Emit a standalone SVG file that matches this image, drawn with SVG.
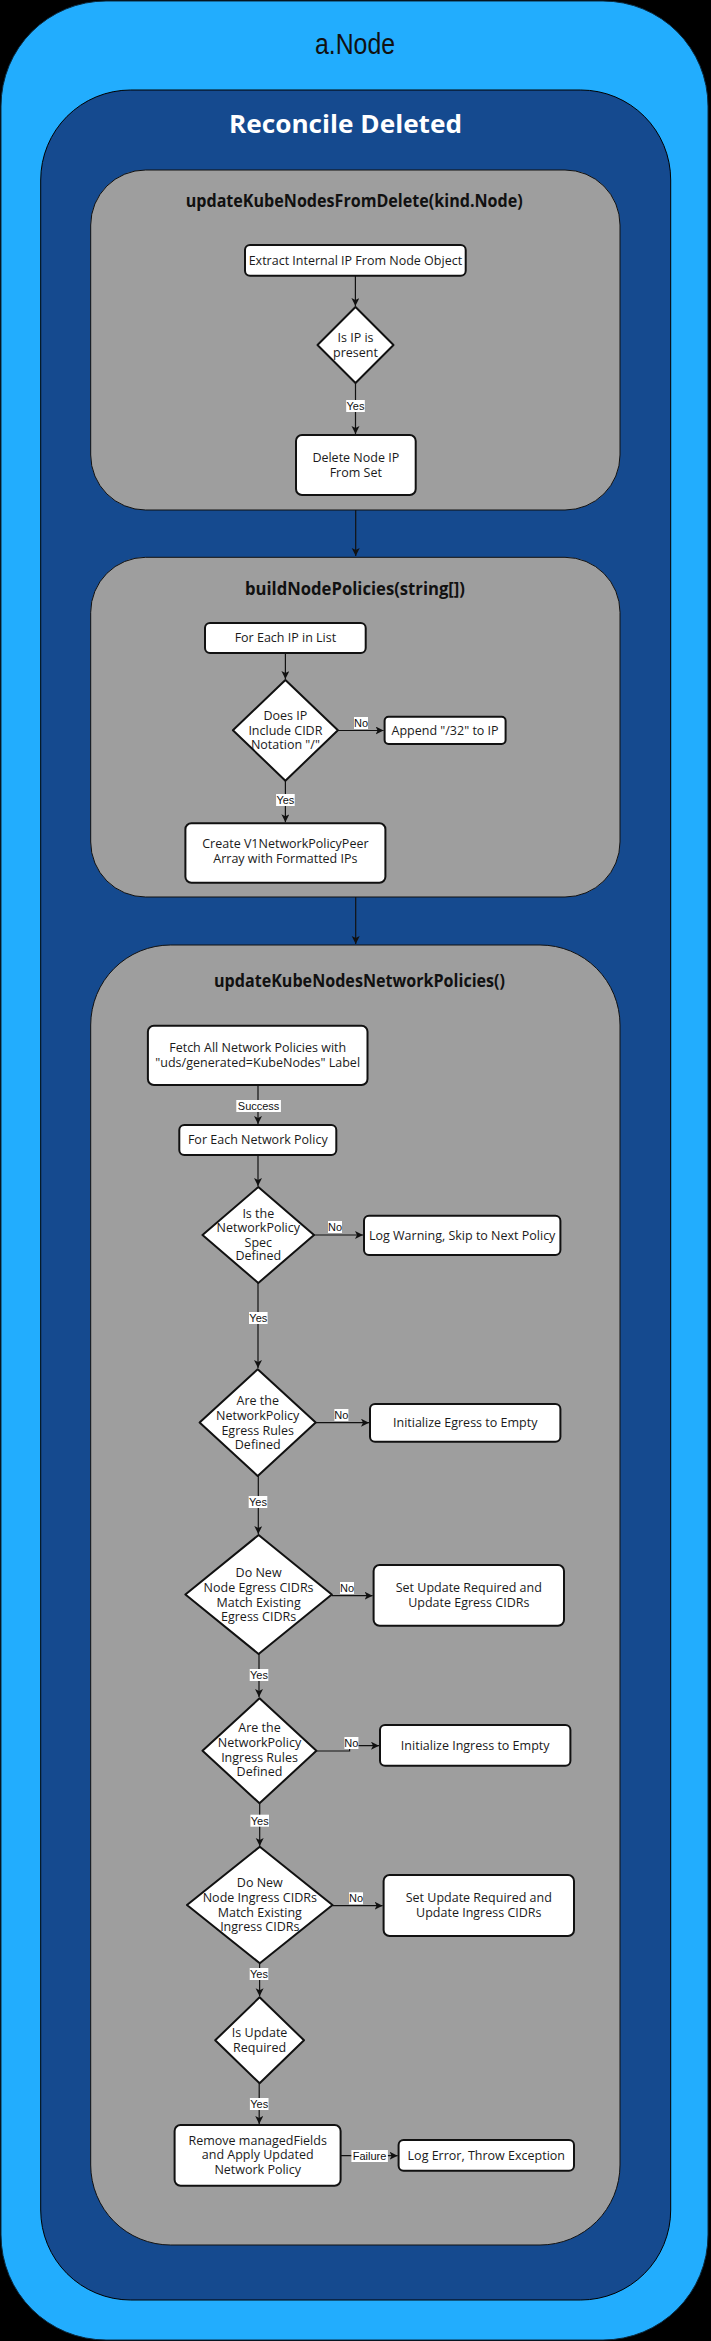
<svg xmlns="http://www.w3.org/2000/svg" width="711" height="2341" viewBox="0 0 711 2341">
<style>
.bg{fill:#000}
.outer{fill:#22adfe;stroke:#0a2a40;stroke-width:1}
.inner{fill:#154a8f;stroke:#000;stroke-width:1}
.panel{fill:#9e9e9e;stroke:#111;stroke-width:1}
.box{fill:#fff;stroke:#111;stroke-width:2}
.dia{fill:#fff;stroke:#111;stroke-width:2;stroke-linejoin:round}
.t{font-family:"Open Sans","Liberation Sans",sans-serif;font-size:12.5px;fill:#1a1a1a;text-anchor:middle}
.pt{font-family:"Open Sans","Liberation Sans",sans-serif;font-weight:700;font-size:17.5px;fill:#111;text-anchor:middle}
.lbl{font-family:"Liberation Sans","Arial",sans-serif;font-size:11px;fill:#111;text-anchor:middle}
.lb{fill:#fff}
.c{fill:none;stroke:#111;stroke-width:1.2}
</style>
<defs>
<marker id="ar" markerUnits="userSpaceOnUse" markerWidth="10" markerHeight="10" refX="8" refY="4" orient="auto">
<path d="M0,0 L8,4 L0,8 L2,4 z" fill="#111"/>
</marker>
</defs>
<rect class="bg" x="0" y="0" width="711" height="2341"/>
<g id="container-anode">
<rect class="outer" x="1" y="1" width="707" height="2339" rx="105" ry="105"/>
<text x="355" y="54" font-family="Liberation Sans, Arial, sans-serif" font-size="29" fill="#111" text-anchor="middle" textLength="80" lengthAdjust="spacingAndGlyphs">a.Node</text>
</g>
<g id="container-reconcile">
<rect class="inner" x="40.7" y="90" width="630" height="2210" rx="90" ry="90"/>
<text x="345.5" y="133" font-family="Open Sans, Liberation Sans, sans-serif" font-weight="700" font-size="25" fill="#fff" text-anchor="middle" textLength="233" lengthAdjust="spacingAndGlyphs">Reconcile Deleted</text>
</g>
<g id="panel-updateKubeNodesFromDelete">
<rect class="panel" x="90.7" y="170" width="529.3" height="340" rx="55" ry="55"/>
<text class="pt" x="354.2" y="206.7" textLength="337" lengthAdjust="spacingAndGlyphs">updateKubeNodesFromDelete(kind.Node)</text>
</g>
<g id="panel-buildNodePolicies">
<rect class="panel" x="90.7" y="557.3" width="529.3" height="339.7" rx="55" ry="55"/>
<text class="pt" x="355" y="595" textLength="220" lengthAdjust="spacingAndGlyphs">buildNodePolicies(string[])</text>
</g>
<g id="panel-updateKubeNodesNetworkPolicies">
<rect class="panel" x="90.7" y="945" width="529.3" height="1300" rx="80" ry="80"/>
<text class="pt" x="359.5" y="986.7" textLength="291" lengthAdjust="spacingAndGlyphs">updateKubeNodesNetworkPolicies()</text>
</g>

<g id="connectors">
<line class="c" x1="355.7" y1="510" x2="355.7" y2="556" marker-end="url(#ar)"/>
<line class="c" x1="355.7" y1="897" x2="355.7" y2="944" marker-end="url(#ar)"/>
<line class="c" x1="355.4" y1="275.7" x2="355.4" y2="306" marker-end="url(#ar)"/>
<line class="c" x1="355.5" y1="383" x2="355.5" y2="434" marker-end="url(#ar)"/>
<line class="c" x1="285.4" y1="653" x2="285.4" y2="679" marker-end="url(#ar)"/>
<line class="c" x1="338" y1="730.5" x2="383.6" y2="730.5" marker-end="url(#ar)"/>
<line class="c" x1="285.4" y1="781" x2="285.4" y2="822.3" marker-end="url(#ar)"/>
<line class="c" x1="258" y1="1085" x2="258" y2="1124" marker-end="url(#ar)"/>
<line class="c" x1="258" y1="1155" x2="258" y2="1186" marker-end="url(#ar)"/>
<line class="c" x1="314" y1="1235" x2="363" y2="1235" marker-end="url(#ar)"/>
<line class="c" x1="258" y1="1283" x2="258" y2="1368" marker-end="url(#ar)"/>
<line class="c" x1="315.7" y1="1422.7" x2="369" y2="1422.7" marker-end="url(#ar)"/>
<line class="c" x1="258.3" y1="1476" x2="258.3" y2="1534" marker-end="url(#ar)"/>
<line class="c" x1="331.8" y1="1595.7" x2="372.6" y2="1595.7" marker-end="url(#ar)"/>
<line class="c" x1="259" y1="1654" x2="259" y2="1697" marker-end="url(#ar)"/>
<polyline class="c" points="316.4,1751 349.6,1751 349.6,1745.7 379,1745.7" marker-end="url(#ar)"/>
<line class="c" x1="259.7" y1="1803.5" x2="259.7" y2="1846" marker-end="url(#ar)"/>
<line class="c" x1="332.5" y1="1905.7" x2="382.6" y2="1905.7" marker-end="url(#ar)"/>
<line class="c" x1="259.6" y1="1963.5" x2="259.6" y2="1996.3" marker-end="url(#ar)"/>
<line class="c" x1="259.2" y1="2083.3" x2="259.2" y2="2124" marker-end="url(#ar)"/>
<line class="c" x1="340.7" y1="2155.7" x2="397.6" y2="2155.7" marker-end="url(#ar)"/>

<rect class="lb" x="346.2" y="400" width="18.6" height="12"/>
<text class="lbl" x="355.5" y="410">Yes</text>
<rect class="lb" x="354" y="717" width="14" height="12"/>
<text class="lbl" x="361" y="727">No</text>
<rect class="lb" x="276.1" y="794" width="18.6" height="12"/>
<text class="lbl" x="285.4" y="804">Yes</text>
<rect class="lb" x="236.3" y="1100" width="44.6" height="12"/>
<text class="lbl" x="258.6" y="1110">Success</text>
<rect class="lb" x="328" y="1221" width="14" height="12"/>
<text class="lbl" x="335" y="1231">No</text>
<rect class="lb" x="249" y="1312" width="18.6" height="12"/>
<text class="lbl" x="258.3" y="1322">Yes</text>
<rect class="lb" x="334.4" y="1409" width="14" height="12"/>
<text class="lbl" x="341.4" y="1419">No</text>
<rect class="lb" x="248.7" y="1496" width="18.6" height="12"/>
<text class="lbl" x="258" y="1506">Yes</text>
<rect class="lb" x="340" y="1582" width="14" height="12"/>
<text class="lbl" x="347" y="1592">No</text>
<rect class="lb" x="249.7" y="1669" width="18.6" height="12"/>
<text class="lbl" x="259" y="1679">Yes</text>
<rect class="lb" x="344.4" y="1737" width="14" height="12"/>
<text class="lbl" x="351.4" y="1747">No</text>
<rect class="lb" x="250.4" y="1814.7" width="18.6" height="12"/>
<text class="lbl" x="259.7" y="1824.7">Yes</text>
<rect class="lb" x="349" y="1892.3" width="14" height="12"/>
<text class="lbl" x="356" y="1902.3">No</text>
<rect class="lb" x="249.7" y="1968" width="18.6" height="12"/>
<text class="lbl" x="259" y="1978">Yes</text>
<rect class="lb" x="249.9" y="2098" width="18.6" height="12"/>
<text class="lbl" x="259.2" y="2108">Yes</text>
<rect class="lb" x="351.4" y="2150" width="36.5" height="12"/>
<text class="lbl" x="369.6" y="2160">Failure</text>
</g>

<g id="n-extract">
<rect class="box" x="245" y="245" width="220.7" height="30.7" rx="5"/>
<text class="t" x="355.4" y="264.5">Extract Internal IP From Node Object</text>
</g>
<g id="d-ip-present">
<polygon class="dia" points="355.5,307 393.5,345 355.5,383 317.5,345"/>
<text class="t" x="355.5" y="341.7">Is IP is</text>
<text class="t" x="355.5" y="356.7">present</text>
</g>
<g id="n-delete-ip">
<rect class="box" x="296" y="435" width="119.7" height="60" rx="6"/>
<text class="t" x="355.8" y="461.7">Delete Node IP</text>
<text class="t" x="355.8" y="476.7">From Set</text>
</g>

<g id="n-foreach-ip">
<rect class="box" x="205" y="623" width="160.7" height="30" rx="5"/>
<text class="t" x="285.4" y="642">For Each IP in List</text>
</g>
<g id="d-cidr">
<polygon class="dia" points="285.4,680 337.9,730.3 285.4,780.7 232.9,730.3"/>
<text class="t" x="285.4" y="720">Does IP</text>
<text class="t" x="285.4" y="734.5">Include CIDR</text>
<text class="t" x="285.4" y="749">Notation "/"</text>
</g>
<g id="n-append">
<rect class="box" x="384.6" y="716.7" width="121" height="27.3" rx="4"/>
<text class="t" x="445.1" y="734.5">Append "/32" to IP</text>
</g>
<g id="n-create-peer">
<rect class="box" x="185.4" y="823.3" width="200" height="59.4" rx="6"/>
<text class="t" x="285.4" y="848.3">Create V1NetworkPolicyPeer</text>
<text class="t" x="285.4" y="863.3">Array with Formatted IPs</text>
</g>

<g id="n-fetch">
<rect class="box" x="147.9" y="1025.7" width="219.6" height="59.3" rx="6"/>
<text class="t" x="257.7" y="1051.7">Fetch All Network Policies with</text>
<text class="t" x="257.7" y="1066.7">"uds/generated=KubeNodes" Label</text>
</g>
<g id="n-foreach-np">
<rect class="box" x="179.3" y="1125" width="157" height="30" rx="5"/>
<text class="t" x="257.8" y="1144">For Each Network Policy</text>
</g>
<g id="d-spec">
<polygon class="dia" points="258.3,1187 314,1235 258.3,1283 202.5,1235"/>
<text class="t" x="258.3" y="1217.7">Is the</text>
<text class="t" x="258.3" y="1231.7">NetworkPolicy</text>
<text class="t" x="258.3" y="1246.5">Spec</text>
<text class="t" x="258.3" y="1260">Defined</text>
</g>
<g id="n-log-warning">
<rect class="box" x="364" y="1215.7" width="196.4" height="39.3" rx="5"/>
<text class="t" x="462.2" y="1239.5">Log Warning, Skip to Next Policy</text>
</g>
<g id="d-egress">
<polygon class="dia" points="257.7,1369.3 315.7,1422.6 257.7,1476 199.6,1422.6"/>
<text class="t" x="257.7" y="1405">Are the</text>
<text class="t" x="257.7" y="1419.5">NetworkPolicy</text>
<text class="t" x="257.7" y="1434.5">Egress Rules</text>
<text class="t" x="257.7" y="1448.5">Defined</text>
</g>
<g id="n-init-egress">
<rect class="box" x="370" y="1404" width="190.4" height="37.7" rx="5"/>
<text class="t" x="465.2" y="1427.3">Initialize Egress to Empty</text>
</g>
<g id="d-egress-match">
<polygon class="dia" points="258.6,1535 331.8,1594.5 258.6,1654 185.4,1594.5"/>
<text class="t" x="258.6" y="1576.7">Do New</text>
<text class="t" x="258.6" y="1591.7">Node Egress CIDRs</text>
<text class="t" x="258.6" y="1606.7">Match Existing</text>
<text class="t" x="258.6" y="1620.7">Egress CIDRs</text>
</g>
<g id="n-update-egress">
<rect class="box" x="373.6" y="1565" width="190.4" height="60.7" rx="6"/>
<text class="t" x="468.8" y="1591.7">Set Update Required and</text>
<text class="t" x="468.8" y="1606.7">Update Egress CIDRs</text>
</g>
<g id="d-ingress">
<polygon class="dia" points="259.5,1698.3 316.4,1750.8 259.5,1803.3 202.5,1750.8"/>
<text class="t" x="259.5" y="1732.3">Are the</text>
<text class="t" x="259.5" y="1746.7">NetworkPolicy</text>
<text class="t" x="259.5" y="1761.7">Ingress Rules</text>
<text class="t" x="259.5" y="1775.7">Defined</text>
</g>
<g id="n-init-ingress">
<rect class="box" x="380" y="1725" width="190.4" height="40.7" rx="5"/>
<text class="t" x="475.2" y="1749.5">Initialize Ingress to Empty</text>
</g>
<g id="d-ingress-match">
<polygon class="dia" points="259.8,1846.7 332.5,1905 259.8,1963.3 187,1905"/>
<text class="t" x="259.8" y="1887.3">Do New</text>
<text class="t" x="259.8" y="1901.7">Node Ingress CIDRs</text>
<text class="t" x="259.8" y="1916.7">Match Existing</text>
<text class="t" x="259.8" y="1930.7">Ingress CIDRs</text>
</g>
<g id="n-update-ingress">
<rect class="box" x="383.6" y="1875" width="190.4" height="61" rx="6"/>
<text class="t" x="478.8" y="1901.7">Set Update Required and</text>
<text class="t" x="478.8" y="1916.7">Update Ingress CIDRs</text>
</g>
<g id="d-update-required">
<polygon class="dia" points="259.6,1997.3 304,2040.3 259.6,2083.3 215.2,2040.3"/>
<text class="t" x="259.6" y="2036.7">Is Update</text>
<text class="t" x="259.6" y="2051.7">Required</text>
</g>
<g id="n-apply">
<rect class="box" x="174.6" y="2125" width="166" height="60.7" rx="6"/>
<text class="t" x="257.7" y="2145">Remove managedFields</text>
<text class="t" x="257.7" y="2159.3">and Apply Updated</text>
<text class="t" x="257.7" y="2173.5">Network Policy</text>
</g>
<g id="n-log-error">
<rect class="box" x="398.6" y="2140" width="175.4" height="30.7" rx="5"/>
<text class="t" x="486.3" y="2159.5">Log Error, Throw Exception</text>
</g>
</svg>
